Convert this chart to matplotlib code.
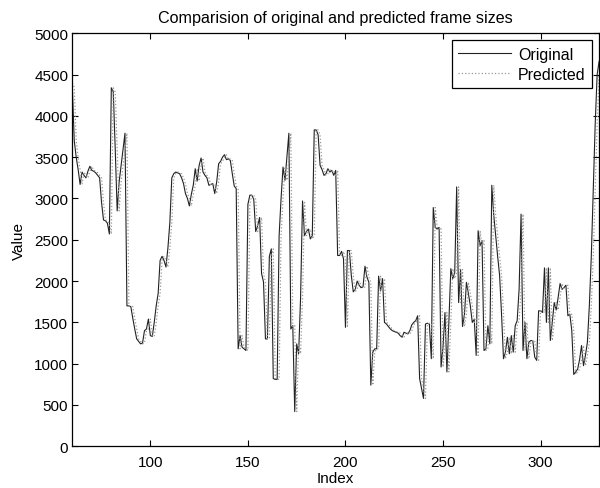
import matplotlib
matplotlib.use('Agg')

import matplotlib.pyplot as plt
import numpy as np

plt.rcParams.update({
    'font.family': 'Liberation Sans', 'font.size': 11,
    'xtick.direction': 'in', 'ytick.direction': 'in',
    'xtick.top': True, 'ytick.right': True,
    'xtick.major.size': 4, 'ytick.major.size': 4,
    'axes.linewidth': 0.9,
})

idx = np.arange(60, 331)

original = [
    4350, 3700, 3500, 3350, 3170, 3320, 3280, 3250, 3330, 3390,
    3340, 3330, 3310, 3280, 3250, 2950, 2740, 2730, 2700, 2570,
    4340, 4290, 3600, 2850, 3200, 3400, 3600, 3790, 1700, 1700,
    1690, 1550, 1420, 1300, 1270, 1240, 1250, 1400, 1420, 1540,
    1340, 1330, 1500, 1700, 1850, 2250, 2300, 2250, 2170, 2400,
    2710, 3250, 3300, 3320, 3310, 3300, 3250, 3180, 3060, 3000,
    2910, 3050, 3160, 3360, 3210, 3400, 3490, 3320, 3280, 3250,
    3160, 3170, 3180, 3060, 3200, 3420, 3450, 3500, 3530, 3470,
    3480, 3460, 3300, 3150, 3120, 1180, 1340, 1200, 1180, 1160,
    2930, 3040, 3040, 2990, 2600, 2670, 2770, 2090, 1990, 1300,
    1300, 2300, 2390, 820, 810, 810, 2550, 3000, 3380, 3220,
    3500, 3790, 1420, 1460, 420, 1240, 1120, 1800, 2970, 2550,
    2600, 2630, 2510, 2550, 3830, 3830, 3770, 3400, 3350, 3280,
    3300, 3360, 3320, 3340, 3280, 3340, 2310, 2310, 2360, 2270,
    1440, 2370, 2370, 2070, 1870, 1900, 2000, 1950, 1920, 1930,
    2180, 2050, 1985, 740, 1140, 1180, 1180, 2060, 1880, 2030,
    1500, 1480, 1450, 1420, 1400, 1390, 1380, 1370, 1340, 1320,
    1380, 1370, 1360, 1400, 1470, 1500, 1520, 1580, 820, 700,
    580, 1480, 1490, 1480, 1060, 2890, 2650, 2630, 2650, 960,
    1200, 1620, 900, 1500, 2150, 2030, 2100, 3140, 1740, 2140,
    1450, 1600, 1985, 1850, 1700, 1500, 1540, 1100, 2610, 2430,
    2490, 1160, 1180, 1460, 1240, 3160, 2800, 2550, 2300, 2070,
    1600, 1060, 1140, 1320, 1120, 1340, 1140, 1460, 1520, 1900,
    2810, 1160, 1500, 1060, 1260, 1280, 1280, 1080, 1040, 1640,
    1640, 1620, 2160, 1500, 2160, 1280, 1500, 1740, 1650, 1800,
    1970, 1900, 1920, 1950, 1580, 1600, 1400, 870, 900, 935,
    1050, 1220, 976, 1100, 1260, 1700, 2300, 3100, 3900, 4500, 4660,
]

predicted = [
    4400, 4350, 3700, 3500, 3350, 3170, 3320, 3280, 3250, 3330,
    3390, 3340, 3330, 3310, 3280, 3250, 2950, 2740, 2730, 2700,
    2570, 4340, 4290, 3600, 2850, 3200, 3400, 3600, 3790, 1700,
    1700, 1690, 1550, 1420, 1300, 1270, 1240, 1250, 1400, 1420,
    1540, 1340, 1330, 1500, 1700, 1850, 2250, 2300, 2250, 2170,
    2400, 2710, 3250, 3300, 3320, 3310, 3300, 3250, 3180, 3060,
    3000, 2910, 3050, 3160, 3360, 3210, 3400, 3490, 3320, 3280,
    3250, 3160, 3170, 3180, 3060, 3200, 3420, 3450, 3500, 3530,
    3470, 3480, 3460, 3300, 3150, 3120, 1180, 1340, 1200, 1180,
    1160, 2930, 3040, 3040, 2990, 2600, 2670, 2770, 2090, 1990,
    1300, 1300, 2300, 2390, 820, 810, 810, 2550, 3000, 3380,
    3220, 3500, 3790, 1420, 1460, 420, 1240, 1120, 1800, 2970,
    2550, 2600, 2630, 2510, 2550, 3830, 3830, 3770, 3400, 3350,
    3280, 3300, 3360, 3320, 3340, 3280, 3340, 2310, 2310, 2360,
    2270, 1440, 2370, 2370, 2070, 1870, 1900, 2000, 1950, 1920,
    1930, 2180, 2050, 1985, 740, 1140, 1180, 1180, 2060, 1880,
    2030, 1500, 1480, 1450, 1420, 1400, 1390, 1380, 1370, 1340,
    1320, 1380, 1370, 1360, 1400, 1470, 1500, 1520, 1580, 820,
    700, 580, 1480, 1490, 1480, 1060, 2890, 2650, 2630, 2650,
    960, 1200, 1620, 900, 1500, 2150, 2030, 2100, 3140, 1740,
    2140, 1450, 1600, 1985, 1850, 1700, 1500, 1540, 1100, 2610,
    2430, 2490, 1160, 1180, 1460, 1240, 3160, 2800, 2550, 2300,
    2070, 1600, 1060, 1140, 1320, 1120, 1340, 1140, 1460, 1520,
    1900, 2810, 1160, 1500, 1060, 1260, 1280, 1280, 1080, 1040,
    1640, 1640, 1620, 2160, 1500, 2160, 1280, 1500, 1740, 1650,
    1800, 1970, 1900, 1920, 1950, 1580, 1600, 1400, 870, 900,
    935, 1050, 1220, 976, 1100, 1260, 1700, 2300, 3100, 3900, 4500,
]

xticks = [100, 150, 200, 250, 300]
yticks = list(range(0, 5001, 500))

fig = plt.figure(figsize=(6.0, 4.89), dpi=100)
ax = fig.add_axes([0.1205, 0.0853, 0.878, 0.8446])

ax.plot(idx, original, '-', color='#222222', linewidth=0.8, label='Original')
ax.plot(idx, predicted, ':', color='#999999', linewidth=0.9, label='Predicted')

ax.set_xlim(60, 330)
ax.set_ylim(0, 5000)
ax.set_xticks(xticks)
ax.set_yticks(yticks)
ax.tick_params(labelsize=11, width=0.8)
ax.tick_params(axis='x', pad=6)
ax.tick_params(axis='y', pad=3)
ax.set_title("Comparision of original and predicted frame sizes", fontsize=11.6, pad=8)
ax.set_xlabel("Index", fontsize=11, labelpad=2)
ax.set_ylabel("Value", fontsize=11, labelpad=6)

leg = ax.legend(loc='upper right', fontsize=11.5, fancybox=False, framealpha=1,
                edgecolor='black', handlelength=3.3, borderaxespad=0.45,
                borderpad=0.4, labelspacing=0.3, handletextpad=0.45)
leg.get_frame().set_linewidth(0.9)

plt.savefig("out.png", dpi=100)
plt.close()
